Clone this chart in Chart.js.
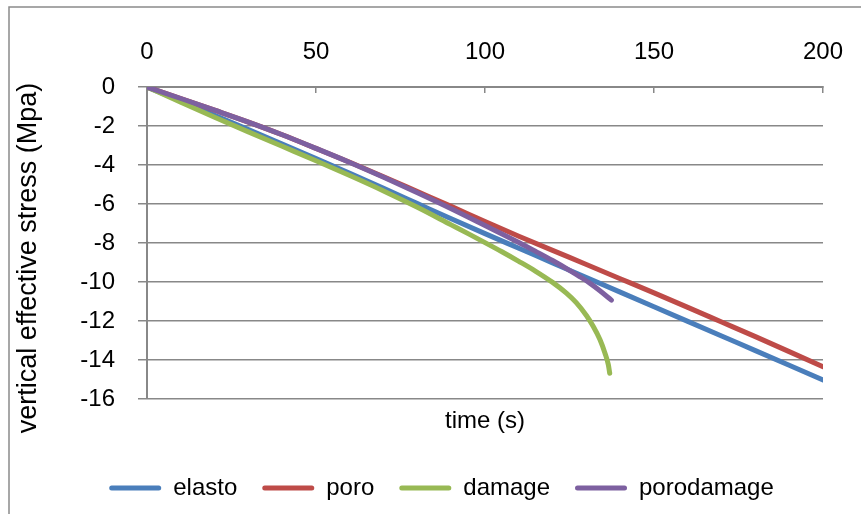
<!DOCTYPE html>
<html>
<head>
<meta charset="utf-8">
<script src="https://cdn.jsdelivr.net/npm/chart.js@4.4.1/dist/chart.umd.min.js"></script>
<style>
  html, body { margin: 0; padding: 0; background: #fff; }
  #wrap { width: 861px; height: 514px; }
</style>
</head>
<body>
<div id="wrap"><canvas id="stressChart" width="861" height="514"></canvas></div>
<script>
// time (s)
var timeFull = [0, 10, 20, 30, 40, 50, 60, 70, 80, 90, 100, 110, 120, 130, 140, 150, 160, 170, 180, 190, 200];
var elasto = [0, -0.72, -1.45, -2.18, -2.92, -3.67, -4.43, -5.2, -5.98, -6.76, -7.52, -8.27, -9.02, -9.77, -10.52, -11.27, -12.02, -12.77, -13.52, -14.27, -15.02];
var poro = [0, -0.59, -1.19, -1.8, -2.45, -3.15, -3.86, -4.6, -5.36, -6.12, -6.9, -7.65, -8.38, -9.1, -9.83, -10.56, -11.3, -12.05, -12.8, -13.57, -14.34];

var timeDamage = [0, 10, 20, 30, 40, 50, 60, 70, 80, 90, 95, 100, 105, 110, 115, 120, 124, 127, 130, 132, 134, 135.5, 136.5, 136.9];
var damage = [0, -0.78, -1.55, -2.3, -3.04, -3.78, -4.54, -5.33, -6.17, -7.07, -7.52, -7.98, -8.45, -8.94, -9.45, -10.02, -10.56, -11.06, -11.72, -12.27, -12.95, -13.65, -14.25, -14.68];

var timePoroDamage = [0, 10, 20, 30, 40, 50, 60, 70, 80, 90, 100, 110, 115, 120, 125, 128, 131, 134, 137.4];
var porodamage = [0, -0.59, -1.19, -1.8, -2.45, -3.15, -3.87, -4.63, -5.42, -6.24, -7.1, -7.97, -8.43, -8.9, -9.4, -9.72, -10.06, -10.45, -10.93];

var xTicks = [0, 50, 100, 150, 200];
var yTicks = [0, -2, -4, -6, -8, -10, -12, -14, -16];
var xTitle = "time (s)";
var yTitle = "vertical effective stress (Mpa)";

var FONT = '"Liberation Sans", Arial, sans-serif';
var GRID = '#888888';

function pts(xs, ys) {
    return xs.map(function (x, i) { return { x: x, y: ys[i] }; });
}

// later series are painted over earlier ones (lower order = on top)
function line(label, xs, ys, color, order) {
    return {
        label: label,
        data: pts(xs, ys),
        order: order,
        borderColor: color,
        backgroundColor: color,
        borderWidth: 5,
        borderCapStyle: 'round',
        borderJoinStyle: 'round',
        pointRadius: 0,
        showLine: true,
        cubicInterpolationMode: 'monotone'
    };
}

var frame = {
    id: 'frame',
    beforeDraw: function (chart) {
        var c = chart.ctx;
        c.save();
        c.fillStyle = '#fff';
        c.fillRect(0, 0, chart.width, chart.height);
        c.strokeStyle = '#8a8a8a';
        c.lineWidth = 1.5;
        c.strokeRect(9, 7, 900, 600);
        c.restore();
    },
    afterDraw: function (chart) {
        var c = chart.ctx;
        c.save();
        c.fillStyle = '#000';
        c.font = '24px ' + FONT;
        c.textAlign = 'center';
        c.textBaseline = 'alphabetic';
        c.fillText(xTitle, 485, 428);
        c.translate(36, 258);
        c.rotate(-Math.PI / 2);
        c.font = '27px ' + FONT;
        c.fillText(yTitle, 0, 0);
        c.restore();
    }
};

var ctx = document.getElementById("stressChart");

var myChart = new Chart(ctx, {
    type: 'scatter',
    data: {
        datasets: [
            line("elasto", timeFull, elasto, '#4a7ebb', 4),
            line("poro", timeFull, poro, '#be4b48', 3),
            line("damage", timeDamage, damage, '#98b954', 2),
            line("porodamage", timePoroDamage, porodamage, '#7d60a0', 1)
        ]
    },
    options: {
        responsive: false,
        animation: false,
        layout: { padding: { left: 60, right: 38, top: 0, bottom: 4 } },
        plugins: {
            tooltip: { enabled: false },
            legend: {
                position: 'bottom',
                labels: {
                    font: { family: FONT, size: 24 },
                    color: '#000',
                    boxWidth: 52,
                    boxHeight: 5,
                    padding: 25,
                    useBorderRadius: true,
                    borderRadius: 2.5,
                    generateLabels: function (chart) {
                        var items = Chart.defaults.plugins.legend.labels.generateLabels(chart);
                        items.forEach(function (it) { it.lineWidth = 0; });
                        items.sort(function (a, b) { return a.datasetIndex - b.datasetIndex; });
                        return items;
                    }
                }
            }
        },
        scales: {
            x: {
                type: 'linear',
                position: 'top',
                min: 0,
                max: 200,
                afterBuildTicks: function (s) { s.ticks = xTicks.map(function (v) { return { value: v }; }); },
                afterFit: function (s) { s.height = 87; s.paddingLeft = 0; s.paddingRight = 0; },
                ticks: { font: { family: FONT, size: 24 }, color: '#000', padding: 26 },
                grid: { drawOnChartArea: false, drawTicks: true, tickLength: -6, color: GRID, lineWidth: 1.5 },
                border: { display: true, color: GRID, width: 2 }
            },
            x2: {
                type: 'linear',
                position: 'bottom',
                min: 0,
                max: 200,
                afterFit: function (s) { s.height = 52; s.paddingLeft = 0; s.paddingRight = 0; },
                ticks: { display: false },
                grid: { display: false },
                border: { display: false }
            },
            y: {
                type: 'linear',
                position: 'left',
                min: -16,
                max: 0,
                afterBuildTicks: function (s) { s.ticks = yTicks.map(function (v) { return { value: v }; }); },
                afterFit: function (s) { s.width = 87; s.paddingTop = 0; s.paddingBottom = 0; },
                ticks: { font: { family: FONT, size: 24 }, color: '#000', padding: 23 },
                grid: { color: GRID, lineWidth: 1.5, tickLength: 9 },
                border: { display: true, color: GRID, width: 2 }
            }
        }
    },
    plugins: [frame]
});
</script>
</body>
</html>
